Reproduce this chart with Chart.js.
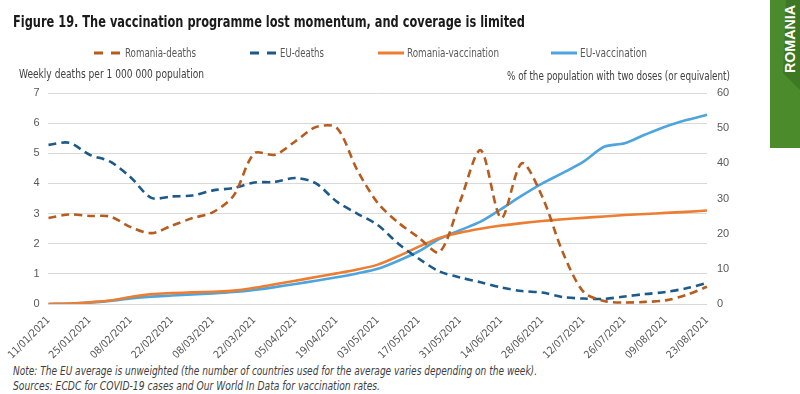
<!DOCTYPE html>
<html><head><meta charset="utf-8">
<script src="https://cdn.jsdelivr.net/npm/chart.js@4/dist/chart.umd.min.js"></script>
<style>
html,body{margin:0;padding:0;background:#fff;width:800px;height:394px;overflow:hidden;position:relative;font-family:"Liberation Sans",Arial,sans-serif;}
.t{position:absolute;white-space:nowrap;line-height:1;transform-origin:0 50%;}
#wrap{position:absolute;left:0;top:0;width:760px;height:360px;}
#tab{position:absolute;left:770px;top:0;width:30px;height:148px;}
svg.lg{position:absolute;overflow:visible;}
</style></head><body>
<svg id="tab" width="30" height="148" viewBox="770 0 30 148">
  <rect x="770" y="0" width="30" height="148" fill="#4b8b2b"/>
  <polygon points="786,0 800,0 800,90 783,73" fill="#3f7824"/>
  <text transform="translate(795,73) rotate(-90)" textLength="68" lengthAdjust="spacingAndGlyphs" fill="#ffffff" font-family="Liberation Sans, Arial, sans-serif" font-weight="bold" font-size="15">ROMANIA</text>
</svg>
<div id="wrap"><canvas id="c" width="760" height="360"></canvas></div>
<script>
// ---- data ----
const dates = ["11/01/2021","18/01/2021","25/01/2021","01/02/2021","08/02/2021","15/02/2021","22/02/2021","01/03/2021","08/03/2021","15/03/2021","22/03/2021","29/03/2021","05/04/2021","12/04/2021","19/04/2021","26/04/2021","03/05/2021","10/05/2021","17/05/2021","24/05/2021","31/05/2021","07/06/2021","14/06/2021","21/06/2021","28/06/2021","05/07/2021","12/07/2021","19/07/2021","26/07/2021","02/08/2021","09/08/2021","16/08/2021","23/08/2021"];
const tickLabels = dates.filter((d, i) => i % 2 === 0);
const romaniaDeaths = [2.85,2.97,2.92,2.9,2.55,2.35,2.6,2.85,3.05,3.6,5.0,4.95,5.4,5.87,5.85,4.45,3.35,2.7,2.2,1.72,3.4,5.1,2.85,4.67,3.55,1.7,0.4,0.1,0.05,0.07,0.12,0.3,0.57];
const euDeaths = [5.28,5.35,4.95,4.72,4.2,3.52,3.57,3.6,3.77,3.85,4.03,4.05,4.18,4.0,3.4,3.0,2.62,2.0,1.5,1.08,0.88,0.72,0.55,0.43,0.38,0.23,0.18,0.17,0.25,0.33,0.4,0.52,0.7];
const romaniaVaccination = [0,0.1,0.5,1.0,2.0,2.8,3.1,3.3,3.5,3.8,4.6,5.6,6.6,7.7,8.7,9.8,11.2,13.6,16.3,18.8,20.3,21.4,22.3,23.0,23.6,24.1,24.5,24.9,25.3,25.6,25.9,26.2,26.6];
const euVaccination = [0,0.1,0.4,0.9,1.6,2.1,2.4,2.7,3.0,3.4,4.0,4.8,5.7,6.6,7.6,8.7,10.0,12.3,15.0,18.5,21.0,23.4,27.0,30.8,34.3,37.3,40.5,44.7,45.7,48.2,50.5,52.3,53.8];
const seriesNames = ["Romania-deaths","EU-deaths","Romania-vaccination","EU-vaccination"];

// ---- fonts ----
function hasFont(name){const c=document.createElement('canvas').getContext('2d');const s='abcdefghijklmnopqrstuvwxyz0123456789ABCDEFGHIJ';c.font='20px monospace';const a=c.measureText(s).width;c.font='20px "'+name+'", monospace';return Math.abs(c.measureText(s).width-a)>0.5;}
const NARROW = hasFont('Liberation Sans Narrow') ? '"Liberation Sans Narrow"' : (hasFont('DejaVu Sans Condensed') ? '"DejaVu Sans Condensed"' : '"Liberation Sans"');
const narrowOK = NARROW !== '"Liberation Sans"';

function place(text, x, yc, targetW, font, color){
  const d=document.createElement('div');d.className='t';d.textContent=text;
  d.style.font=font;d.style.color=color;d.style.left=x+'px';
  document.body.appendChild(d);
  const w=d.getBoundingClientRect().width,h=d.offsetHeight;
  d.style.top=(yc-h/2)+'px';
  d.style.transform='scaleX('+(targetW/w)+')';
  return d;
}
place("Figure 19. The vaccination programme lost momentum, and coverage is limited",13,21,512,"bold 16px "+NARROW,"#1a1a1a");
place("Weekly deaths per 1 000 000 population",19,74,185,"11.5px "+NARROW,"#404040");
place("% of the population with two doses (or equivalent)",507,76,223,"11.5px "+NARROW,"#404040");
place("Note: The EU average is unweighted (the number of countries used for the average varies depending on the week).",13,371,524,"italic 11.5px "+NARROW,"#404040");
place("Sources: ECDC for COVID-19 cases and Our World In Data for vaccination rates.",13,386,367,"italic 11.5px "+NARROW,"#404040");

// ---- chart ----
const colors = ["#b65c1e","#1d5a8a","#ec7d31","#4ea5de"];
const dashes = [[8,5],[8,5],[],[]];
const values = [romaniaDeaths, euDeaths, romaniaVaccination, euVaccination];
const axes = ['y','y','y1','y1'];
const datasets = seriesNames.map((n,i)=>({label:n,data:values[i],yAxisID:axes[i],borderColor:colors[i],backgroundColor:colors[i],borderDash:dashes[i],borderWidth:2.6,pointRadius:0,pointHoverRadius:0,tension:0.3,fill:false,order:i<2?1:2}));

// legend (HTML, from dataset definitions)
const legendPos=[[94,125,71],[250,280,44],[378,407,92],[551,580,67]];
datasets.forEach((ds,i)=>{
  const [lx,tx,tw]=legendPos[i];
  const svg=document.createElementNS('http://www.w3.org/2000/svg','svg');
  svg.setAttribute('class','lg');svg.setAttribute('width','26');svg.setAttribute('height','6');
  svg.style.left=lx+'px';svg.style.top='50px';
  const ln=document.createElementNS('http://www.w3.org/2000/svg','line');
  ln.setAttribute('x1','0');ln.setAttribute('x2','26');ln.setAttribute('y1','3');ln.setAttribute('y2','3');
  ln.setAttribute('stroke',ds.borderColor);ln.setAttribute('stroke-width','3');
  if(ds.borderDash.length) ln.setAttribute('stroke-dasharray','9 8');
  svg.appendChild(ln);document.body.appendChild(svg);
  place(ds.label,tx,53,tw,"11.5px "+NARROW,"#595959");
});

const tickColor='#595959';
new Chart(document.getElementById('c'),{
  type:'line',
  data:{labels:dates,datasets:datasets},
  options:{
    responsive:false,animation:false,devicePixelRatio:1,
    layout:{padding:{top:93,left:0,right:0,bottom:0}},
    plugins:{legend:{display:false},tooltip:{enabled:false},title:{display:false}},
    scales:{
      x:{type:'category',offset:false,grid:{display:false,drawTicks:false},border:{display:false},
         ticks:{autoSkip:false,maxRotation:45,minRotation:45,padding:10,color:tickColor,
           font:{family:narrowOK?NARROW:'"Liberation Sans"',size:narrowOK?10.5:8.5},
           callback:(v,i)=> i%2===0 ? tickLabels[i/2] : ''},
         afterFit:s=>{s.height=56;}},
      y:{position:'left',min:0,max:7,grid:{color:'#d9d9d9',lineWidth:1,drawTicks:false},border:{display:false},
         ticks:{stepSize:1,padding:9,color:tickColor,font:{family:'"Liberation Sans"',size:11}},
         afterFit:s=>{s.width=45;}},
      y1:{position:'right',min:0,max:60,grid:{display:false,drawTicks:false},border:{display:false},
         ticks:{stepSize:10,padding:10,color:tickColor,font:{family:'"Liberation Sans"',size:11}},
         afterFit:s=>{s.width=53;}}
    }
  }
});
</script>
</body></html>
